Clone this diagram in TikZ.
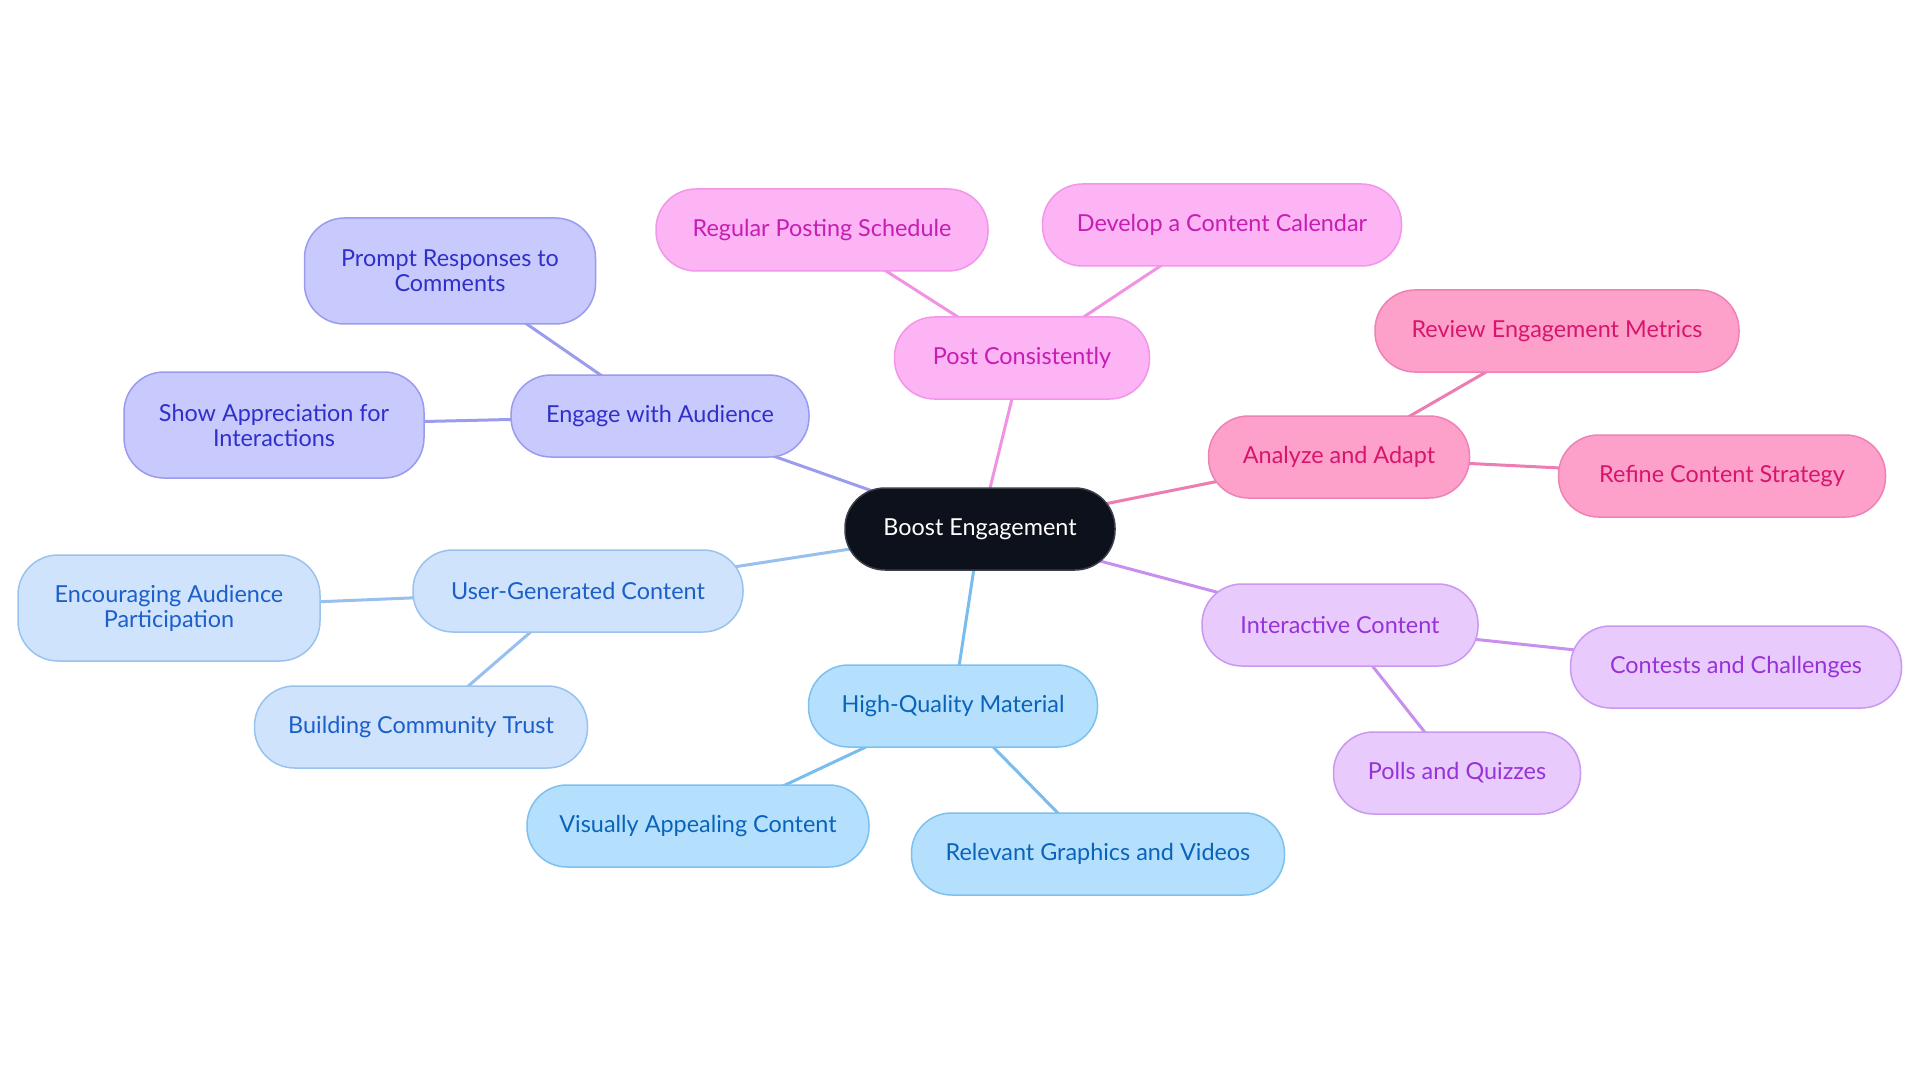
\documentclass[tikz,border=0pt]{standalone}
\usepackage{fontspec}
\setmainfont{Lato}
\usetikzlibrary{backgrounds}
\definecolor{rootfill}{HTML}{0C111B}
\definecolor{rootdraw}{HTML}{3A3F48}
\definecolor{pkAfill}{HTML}{FDB4F5}\definecolor{pkAdraw}{HTML}{F196E8}\definecolor{pkAtext}{HTML}{C61DB2}\definecolor{pkAedge}{HTML}{F193E2}
\definecolor{pkBfill}{HTML}{FDA1CB}\definecolor{pkBdraw}{HTML}{EE82B4}\definecolor{pkBtext}{HTML}{D8156C}\definecolor{pkBedge}{HTML}{EC7CB2}
\definecolor{puFill}{HTML}{E8CAFD}\definecolor{puDraw}{HTML}{C899EF}\definecolor{puText}{HTML}{9632D6}\definecolor{puEdge}{HTML}{C890EE}
\definecolor{skFill}{HTML}{B4E0FD}\definecolor{skDraw}{HTML}{7DC1EE}\definecolor{skText}{HTML}{0A63BA}\definecolor{skEdge}{HTML}{79BDEE}
\definecolor{lbFill}{HTML}{CFE3FC}\definecolor{lbDraw}{HTML}{9AC2EE}\definecolor{lbText}{HTML}{1C5FC8}\definecolor{lbEdge}{HTML}{98BFEE}
\definecolor{pwFill}{HTML}{C8C9FC}\definecolor{pwDraw}{HTML}{9A9AEE}\definecolor{pwText}{HTML}{2F30C9}\definecolor{pwEdge}{HTML}{9B9CEE}
\tikzset{
  x=1pt, y=-1pt,
  box/.style={rectangle, rounded corners=40pt, inner sep=0pt, line width=1.5pt,
    minimum height=82pt, align=center, font=\fontsize{23.4}{25}\selectfont},
  tall/.style={minimum height=106pt},
  rootbox/.style={box, fill=rootfill, draw=rootdraw, text=white},
  pkA/.style={box, fill=pkAfill, draw=pkAdraw, text=pkAtext},
  pkB/.style={box, fill=pkBfill, draw=pkBdraw, text=pkBtext},
  pu/.style={box, fill=puFill, draw=puDraw, text=puText},
  sk/.style={box, fill=skFill, draw=skDraw, text=skText},
  lb/.style={box, fill=lbFill, draw=lbDraw, text=lbText},
  pw/.style={box, fill=pwFill, draw=pwDraw, text=pwText},
  conn/.style={line width=3pt},
}
\begin{document}
\begin{tikzpicture}
\useasboundingbox (0,0) rectangle (1920,1083);
% nodes
\node[rootbox, minimum width=270pt] (root) at (980,529) {Boost Engagement};
\node[pkA, minimum width=255pt] (post) at (1022,358) {Post Consistently};
\node[pkA, minimum width=332pt] (regular) at (822,230) {Regular Posting Schedule};
\node[pkA, minimum width=359pt] (develop) at (1222,225) {Develop a Content Calendar};
\node[pkB, minimum width=261pt] (analyze) at (1339,457) {Analyze and Adapt};
\node[pkB, minimum width=364pt] (review) at (1557,331) {Review Engagement Metrics};
\node[pkB, minimum width=327pt] (refine) at (1722,476) {Refine Content Strategy};
\node[pu, minimum width=276pt] (inter) at (1340,625) {Interactive Content};
\node[pu, minimum width=331pt] (contests) at (1736,667) {Contests and Challenges};
\node[pu, minimum width=247pt] (polls) at (1457,773) {Polls and Quizzes};
\node[sk, minimum width=289pt] (hq) at (953,706) {High-Quality Material};
\node[sk, minimum width=342pt] (visual) at (698,826) {Visually Appealing Content};
\node[sk, minimum width=373pt] (relevant) at (1098,854) {Relevant Graphics and Videos};
\node[lb, minimum width=330pt] (ugc) at (578,591) {User-Generated Content};
\node[lb, tall, minimum width=302pt] (encour) at (169,608) {Encouraging Audience\\Participation};
\node[lb, minimum width=333pt] (building) at (421,727) {Building Community Trust};
\node[pw, minimum width=298pt] (engage) at (660,416) {Engage with Audience};
\node[pw, tall, minimum width=300pt] (show) at (274,425) {Show Appreciation for\\Interactions};
\node[pw, tall, minimum width=291pt] (prompt) at (450,271) {Prompt Responses to\\Comments};
% connectors
\begin{scope}[on background layer]
\fill[white] (0,0) rectangle (1920,1083);
\draw[conn, pkAedge] (root.center) -- (post.center);
\draw[conn, pkAedge] (post.center) -- (regular.center);
\draw[conn, pkAedge] (post.center) -- (develop.center);
\draw[conn, pkBedge] (root.center) -- (analyze.center);
\draw[conn, pkBedge] (analyze.center) -- (review.center);
\draw[conn, pkBedge] (analyze.center) -- (refine.center);
\draw[conn, puEdge] (root.center) -- (inter.center);
\draw[conn, puEdge] (inter.center) -- (contests.center);
\draw[conn, puEdge] (inter.center) -- (polls.center);
\draw[conn, skEdge] (root.center) -- (hq.center);
\draw[conn, skEdge] (hq.center) -- (visual.center);
\draw[conn, skEdge] (hq.center) -- (relevant.center);
\draw[conn, lbEdge] (root.center) -- (ugc.center);
\draw[conn, lbEdge] (ugc.center) -- (encour.center);
\draw[conn, lbEdge] (ugc.center) -- (building.center);
\draw[conn, pwEdge] (root.center) -- (engage.center);
\draw[conn, pwEdge] (engage.center) -- (show.center);
\draw[conn, pwEdge] (engage.center) -- (prompt.center);
\end{scope}
\end{tikzpicture}
\end{document}
